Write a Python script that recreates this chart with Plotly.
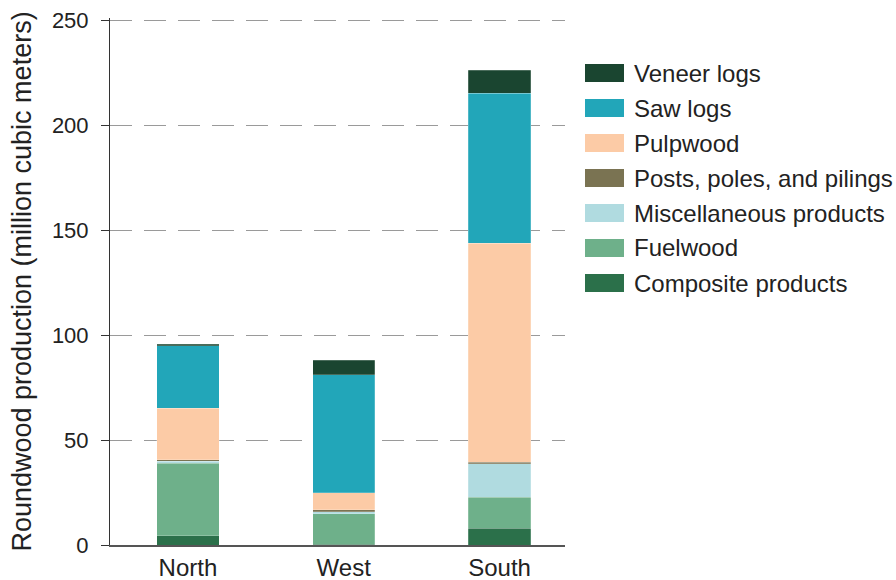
import plotly.graph_objects as go

regions = ["North", "West", "South"]
series_names = ["Composite products", "Fuelwood", "Miscellaneous products",
                "Posts, poles, and pilings", "Pulpwood", "Saw logs", "Veneer logs"]
composite = [4.5, 0.3, 8.0]
fuelwood = [34.4, 14.5, 14.7]
misc = [1.1, 1.1, 15.9]
posts = [0.7, 0.8, 0.9]
pulpwood = [24.4, 8.2, 104.3]
saw_logs = [29.8, 56.1, 71.4]
veneer = [0.8, 7.1, 11.0]
series_values = [composite, fuelwood, misc, posts, pulpwood, saw_logs, veneer]
colors = ["#2b704a", "#6eb08a", "#b0dbe0", "#7a7352", "#fccba6", "#22a6b9", "#1a4530"]
y_ticks = [0, 50, 100, 150, 200, 250]

FONT = "Liberation Sans, Arial, sans-serif"
fig = go.Figure()
for name, vals, col in zip(series_names, series_values, colors):
    fig.add_trace(go.Bar(x=regions, y=vals, name=name, marker_color=col,
                         marker_line=dict(color="rgba(255,255,255,0.35)", width=0.6),
                         width=0.4, showlegend=False))

W, H = 896, 580
PL, PR, PT, PB = 110, 565, 18, 545  # plot area in screen px
L, R, T, B = PL, W - PR, PT, H - PB
pw, ph = PR - PL, PB - PT

def px(x):
    return (x - PL) / pw

def py(y):
    return (PB - y) / ph

shapes = []
annotations = []
legend_order = list(reversed(range(len(series_names))))
for i, idx in enumerate(legend_order):
    cy = 73 + 35 * i
    shapes.append(dict(type="rect", xref="paper", yref="paper",
                       x0=px(585), x1=px(624), y0=py(cy + 9), y1=py(cy - 9),
                       fillcolor=colors[idx], line=dict(width=0)))
    annotations.append(dict(xref="paper", yref="paper", x=px(632), y=py(cy),
                            text=series_names[idx], showarrow=False,
                            xanchor="left", yanchor="middle",
                            font=dict(family=FONT, size=24, color="#222")))

fig.update_layout(
    barmode="stack",
    width=W, height=H,
    margin=dict(l=L, r=R, t=T, b=B, autoexpand=False),
    plot_bgcolor="white", paper_bgcolor="white",
    font=dict(family=FONT, size=22, color="#222"),
    shapes=shapes, annotations=annotations,
    xaxis=dict(range=[-0.5, 2.42], showgrid=False, showline=True,
               linecolor="#555", linewidth=1.5, ticks="", automargin=False,
               tickfont=dict(size=24, color="#222")),
    yaxis=dict(range=[0, 251], tickvals=y_ticks, showgrid=True,
               gridcolor="#9a9a9a", griddash="22px,12px", gridwidth=1,
               showline=True, linecolor="#333", linewidth=1,
               ticks="outside", ticklen=8, tickcolor="#333",
               zeroline=False, automargin=False, ticklabelstandoff=8,
               tickfont=dict(size=22, color="#222"),
               title=dict(text="Roundwood production (million cubic meters)",
                          font=dict(size=27, color="#222"), standoff=12)),
)
fig.write_html("out.html", config={"displayModeBar": False},
               post_script="document.body.style.margin='0';document.body.style.overflow='hidden';")
